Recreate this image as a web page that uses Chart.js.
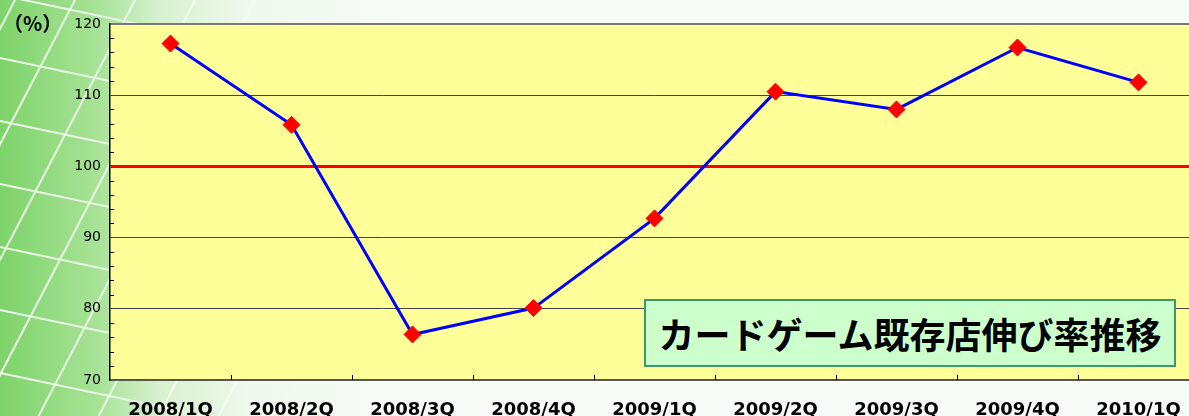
<!DOCTYPE html>
<html><head><meta charset="utf-8">
<script src="https://cdn.jsdelivr.net/npm/chart.js@4"></script>
<style>
html,body{margin:0;padding:0;width:1189px;height:416px;overflow:hidden;background:#f8fcf8;}
#wrap{position:relative;width:1189px;height:416px;overflow:hidden;}
#c{position:absolute;left:0;top:0;}
#unit{position:absolute;left:3px;top:8px;font:bold 20px "Noto Sans CJK JP";color:#000;}
#title{position:absolute;left:644px;top:299px;width:532px;height:68px;box-sizing:border-box;background:#ccffcc;border:2px solid #3a9a6a;font:bold 36px "Noto Sans CJK JP";color:#000;display:flex;align-items:center;justify-content:center;}
</style></head>
<body><div id="wrap"><canvas id="c" width="1210" height="416"></canvas><div id="unit">（%）</div><div id="title">カードゲーム既存店伸び率推移</div></div>
<script>
const categories = ['2008/1Q','2008/2Q','2008/3Q','2008/4Q','2009/1Q','2009/2Q','2009/3Q','2009/4Q','2010/1Q'];
const growthRate = [117.25, 105.85, 76.4, 80.1, 92.7, 110.5, 108.0, 116.7, 111.8];
const yMin = 70;
const yMax = 120;
const yStep = 10;
const referenceLevel = 100;

const decor = {
  id: 'decor',
  beforeDraw(chart) {
    const {ctx, width, height, chartArea: a} = chart;
    ctx.save();
    const g = ctx.createLinearGradient(0, 0, 420, 0);
    g.addColorStop(0, '#7ed36a');
    g.addColorStop(0.24, '#a9e398');
    g.addColorStop(0.38, '#d8f1cf');
    g.addColorStop(0.6, '#f0f9ee');
    g.addColorStop(1, '#f8fcf8');
    ctx.fillStyle = g;
    ctx.fillRect(0, 0, width, height);
    const lg = ctx.createLinearGradient(0, 0, 330, 0);
    lg.addColorStop(0, 'rgba(255,255,255,0.85)');
    lg.addColorStop(0.5, 'rgba(255,255,255,0.65)');
    lg.addColorStop(1, 'rgba(255,255,255,0)');
    ctx.strokeStyle = lg;
    ctx.lineWidth = 2;
    ctx.beginPath();
    for (let y0 = -5; y0 < 480; y0 += 63) { ctx.moveTo(0, y0); ctx.lineTo(400, y0 + 400 * 0.21); }
    for (let x0 = 15; x0 < 700; x0 += 60) { ctx.moveTo(x0, 0); ctx.lineTo(x0 - 416 * 0.52, 416); }
    ctx.stroke();
    ctx.fillStyle = '#ffff99';
    ctx.fillRect(a.left, a.top, a.right - a.left, a.bottom - a.top);
    ctx.restore();
  },
  beforeDatasetsDraw(chart) {
    const {ctx, chartArea: a, scales: {x, y}} = chart;
    ctx.save();
    ctx.strokeStyle = '#000';
    ctx.lineWidth = 1;
    ctx.beginPath();
    for (let v = yMin + 2; v < yMax; v += 2) {
      if (v % yStep === 0) continue;
      const py = Math.round(y.getPixelForValue(v)) + 0.5;
      ctx.moveTo(a.left, py); ctx.lineTo(a.left + 4, py);
    }
    for (let i = 0; i < categories.length; i++) {
      const px = Math.round((x.getPixelForValue(i) + x.getPixelForValue(i + 1)) / 2) + 0.5;
      ctx.moveTo(px, a.bottom); ctx.lineTo(px, a.bottom - 5);
    }
    ctx.stroke();
    ctx.restore();
  }
};

new Chart(document.getElementById('c'), {
  type: 'line',
  data: {
    labels: categories,
    datasets: [{
      data: growthRate,
      borderColor: '#0000ff',
      borderWidth: 3,
      pointStyle: 'rectRot',
      pointRadius: 8.5,
      pointBackgroundColor: '#ff0000',
      pointBorderColor: '#ff0000',
      pointBorderWidth: 1,
      tension: 0
    }]
  },
  options: {
    responsive: false,
    animation: false,
    devicePixelRatio: 1,
    layout: {padding: {top: 24, right: 11, left: 0, bottom: 0}},
    plugins: {legend: {display: false}, tooltip: {enabled: false}},
    scales: {
      x: {
        type: 'category',
        offset: true,
        grid: {display: false, drawTicks: false},
        border: {display: true, color: '#555', width: 2},
        ticks: {color: '#000', font: {family: 'DejaVu Sans', weight: 'bold', size: 18}, padding: 20, maxRotation: 0, autoSkip: false},
        afterFit(s) { s.height = 36; }
      },
      y: {
        min: yMin, max: yMax,
        ticks: {stepSize: yStep, color: '#000', font: {family: 'DejaVu Sans', size: 14}, padding: 9},
        grid: {
          drawTicks: false,
          color: c => c.tick.value === referenceLevel ? '#ff0000' : (c.tick.value === yMax ? '#777' : (c.tick.value === yMin ? 'rgba(0,0,0,0)' : '#444')),
          lineWidth: c => c.tick.value === referenceLevel ? 3 : (c.tick.value === yMax ? 2 : 1)
        },
        border: {display: true, color: '#000', width: 1.5},
        afterFit(s) { s.width = 110; }
      }
    }
  },
  plugins: [decor]
});
</script>
</body></html>
